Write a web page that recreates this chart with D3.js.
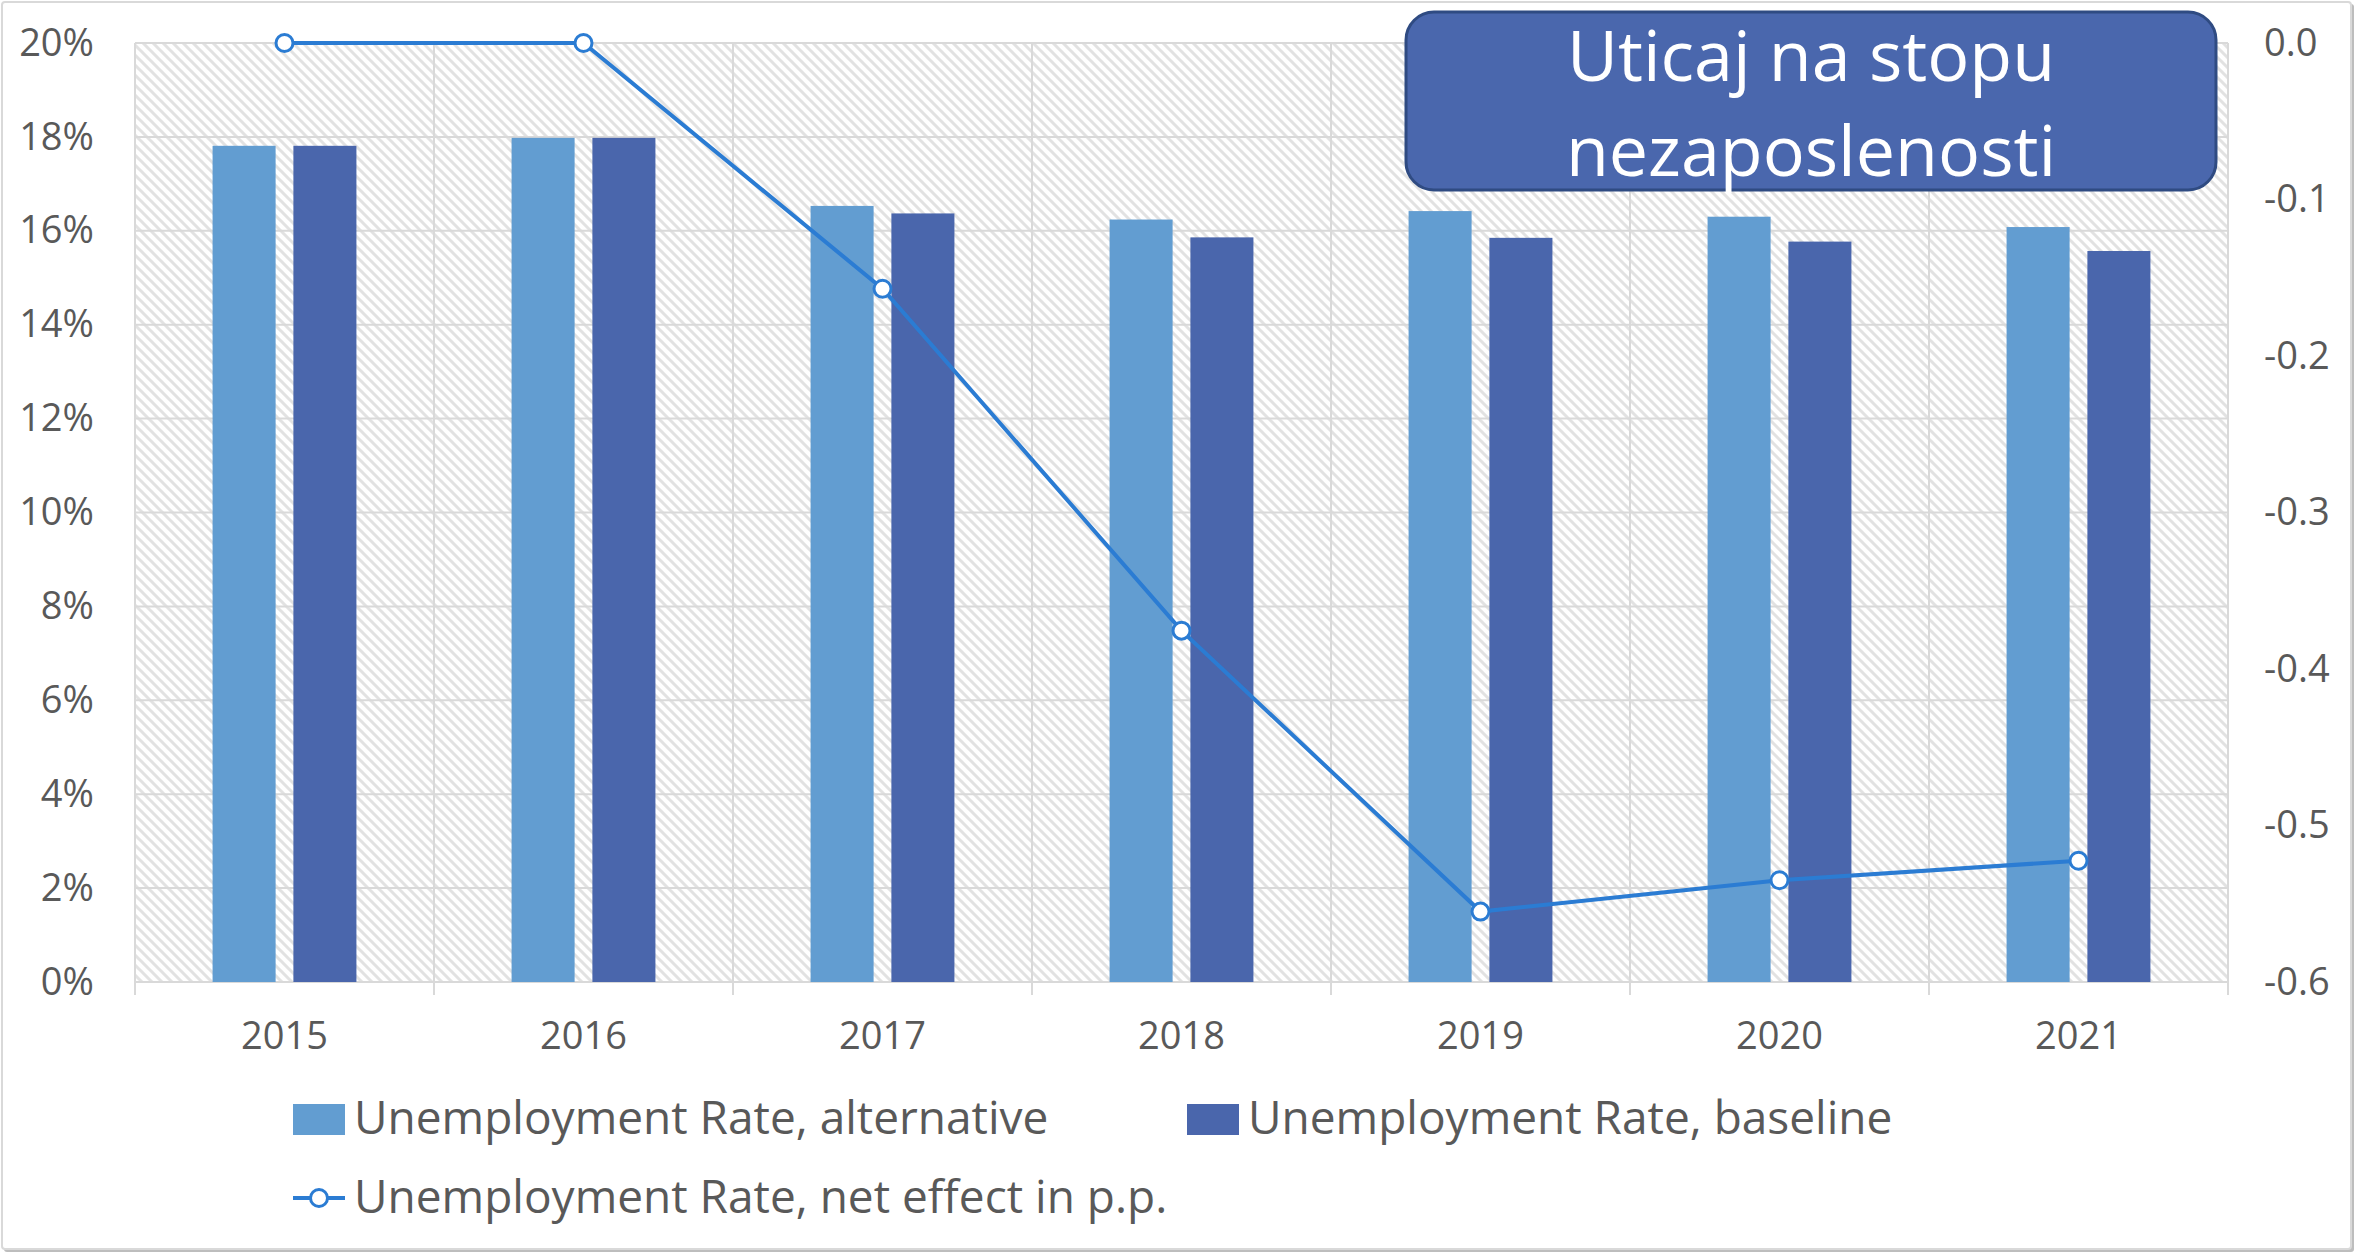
<!DOCTYPE html>
<html>
<meta charset="UTF-8">
<style>
/*	Style Definitions  */
body {
	margin: 0;
	background: white;
}

text {
	font-family: "Open Sans", sans-serif;
	fill: #595959;
}

.grid {
	stroke: #d9d9d9;
	stroke-width: 2px;
}

.net-line {
	fill: none;
	stroke: #2b7cd3;
	stroke-width: 4px;
}

.net-dot {
	fill: white;
	stroke: #2b7cd3;
	stroke-width: 3px;
}
</style>
<svg width="2356" height="1254"></svg>
<script src="https://d3js.org/d3.v7.min.js"></script>
<script>
//	chart data
var years = ["2015", "2016", "2017", "2018", "2019", "2020", "2021"];
var altRate = [0.1781, 0.1798, 0.1653, 0.1624, 0.1642, 0.1630, 0.1608];
var baseRate = [0.1781, 0.1798, 0.1637, 0.1586, 0.1585, 0.1577, 0.1557];
var netEffect = [0, 0, -0.157, -0.3755, -0.555, -0.535, -0.5225];

var seriesNames = ["Unemployment Rate, alternative", "Unemployment Rate, baseline", "Unemployment Rate, net effect in p.p."];
var titleLines = ["Uticaj na stopu", "nezaposlenosti"];

//	colors
var altColor = "#629dd1",
	baseColor = "#4a66ac";

//	svg and sizing
var svg = d3.select("svg"),
	width = +svg.attr("width"),
	height = +svg.attr("height");

var plot = {left: 135, right: 2228, top: 43, bottom: 982};

//	outer frame with a little shadow
svg.append("rect")
	.attr("x", 4).attr("y", 4)
	.attr("width", width - 6).attr("height", height - 6)
	.attr("rx", 3)
	.attr("fill", "#bdbdbd");
svg.append("rect")
	.attr("x", 2).attr("y", 2)
	.attr("width", width - 7).attr("height", height - 7)
	.attr("rx", 3)
	.attr("fill", "white")
	.attr("stroke", "#d9d9d9")
	.attr("stroke-width", 2);

//	hatch pattern for the plot area
var defs = svg.append("defs");
var hatch = defs.append("pattern")
	.attr("id", "hatch")
	.attr("patternUnits", "userSpaceOnUse")
	.attr("width", 10)
	.attr("height", 10);
hatch.append("rect")
	.attr("width", 10).attr("height", 10)
	.attr("fill", "white");
hatch.append("path")
	.attr("d", "M-1,-1L11,11M-3,7L3,13M7,-3L13,3")
	.attr("stroke", "#e2e2e2")
	.attr("stroke-width", 3);

//	scales
var x = d3.scaleBand()
	.domain(years)
	.range([plot.left, plot.right]);

var xInner = d3.scaleBand()
	.domain(["alt", "base"])
	.range([0, x.bandwidth()])
	.paddingInner(0.22)
	.paddingOuter(0.96);

var yLeft = d3.scaleLinear()
	.domain([0, 0.2])
	.range([plot.bottom, plot.top]);

var yRight = d3.scaleLinear()
	.domain([-0.6, 0])
	.range([plot.bottom, plot.top]);

//	plot background
svg.append("rect")
	.attr("x", plot.left)
	.attr("y", plot.top)
	.attr("width", plot.right - plot.left)
	.attr("height", plot.bottom - plot.top)
	.attr("fill", "url(#hatch)");

//	horizontal gridlines
svg.append("g").selectAll("line")
	.data(yLeft.ticks(10))
	.enter().append("line")
	.attr("class", "grid")
	.attr("x1", plot.left)
	.attr("x2", plot.right)
	.attr("y1", function(d) { return yLeft(d); })
	.attr("y2", function(d) { return yLeft(d); });

//	vertical gridlines at category edges (they also make the tick marks)
var edges = years.map(function(d) { return x(d); }).concat([plot.right]);
svg.append("g").selectAll("line")
	.data(edges)
	.enter().append("line")
	.attr("class", "grid")
	.attr("x1", function(d) { return d; })
	.attr("x2", function(d) { return d; })
	.attr("y1", plot.top)
	.attr("y2", plot.bottom + 13);

//	bars
var rows = years.map(function(y, i) {
	return {year: y, alt: altRate[i], base: baseRate[i], net: netEffect[i]};
});

var groups = svg.append("g").selectAll("g")
	.data(rows)
	.enter().append("g")
	.attr("transform", function(d) { return "translate(" + x(d.year) + ",0)"; });

groups.append("rect")
	.attr("x", xInner("alt"))
	.attr("width", xInner.bandwidth())
	.attr("y", function(d) { return yLeft(d.alt); })
	.attr("height", function(d) { return yLeft(0) - yLeft(d.alt); })
	.attr("fill", altColor);

groups.append("rect")
	.attr("x", xInner("base"))
	.attr("width", xInner.bandwidth())
	.attr("y", function(d) { return yLeft(d.base); })
	.attr("height", function(d) { return yLeft(0) - yLeft(d.base); })
	.attr("fill", baseColor);

//	net effect line on the right axis
var cx = function(d) { return x(d.year) + x.bandwidth() / 2; };
var line = d3.line()
	.x(cx)
	.y(function(d) { return yRight(d.net); });

svg.append("path")
	.datum(rows)
	.attr("class", "net-line")
	.attr("d", line);

svg.append("g").selectAll("circle")
	.data(rows)
	.enter().append("circle")
	.attr("class", "net-dot")
	.attr("r", 8.5)
	.attr("cx", cx)
	.attr("cy", function(d) { return yRight(d.net); });

//	axes
function styleAxis(g) {
	g.select(".domain").remove();
	g.selectAll("text")
		.style("font-family", "'Open Sans', sans-serif")
		.style("font-size", "38px")
		.attr("fill", "#595959");
}

svg.append("g")
	.attr("transform", "translate(" + plot.left + ",0)")
	.call(d3.axisLeft(yLeft).ticks(10).tickFormat(d3.format(".0%")).tickSize(0).tickPadding(41))
	.call(styleAxis);

svg.append("g")
	.attr("transform", "translate(" + plot.right + ",0)")
	.call(d3.axisRight(yRight).ticks(6).tickFormat(function(d) { return d.toFixed(1); }).tickSize(0).tickPadding(36))
	.call(styleAxis);

svg.append("g")
	.attr("transform", "translate(0," + plot.bottom + ")")
	.call(d3.axisBottom(x).tickSize(0).tickPadding(40))
	.call(styleAxis);

//	title box
svg.append("rect")
	.attr("x", 1406).attr("y", 12)
	.attr("width", 810).attr("height", 178)
	.attr("rx", 28)
	.attr("fill", "#4a67ad")
	.attr("stroke", "#2f4b82")
	.attr("stroke-width", 3);

svg.append("g").selectAll("text")
	.data(titleLines)
	.enter().append("text")
	.attr("x", 1811)
	.attr("y", function(d, i) { return 81 + i * 95; })
	.attr("text-anchor", "middle")
	.style("font-size", "70px")
	.style("fill", "white")
	.text(function(d) { return d; });

//	legend
var legendItems = [
	{name: seriesNames[0], x: 293, y: 1119, kind: "bar", color: altColor},
	{name: seriesNames[1], x: 1187, y: 1119, kind: "bar", color: baseColor},
	{name: seriesNames[2], x: 293, y: 1198, kind: "line"}
];

var legend = svg.append("g").selectAll("g")
	.data(legendItems)
	.enter().append("g")
	.attr("transform", function(d) { return "translate(" + d.x + "," + d.y + ")"; });

legend.filter(function(d) { return d.kind === "bar"; })
	.append("rect")
	.attr("x", 0).attr("y", -15)
	.attr("width", 52).attr("height", 31)
	.attr("fill", function(d) { return d.color; });

var lineKey = legend.filter(function(d) { return d.kind === "line"; });
lineKey.append("line")
	.attr("class", "net-line")
	.attr("x1", 0).attr("x2", 52);
lineKey.append("circle")
	.attr("class", "net-dot")
	.attr("cx", 26).attr("r", 8.5);

legend.append("text")
	.attr("x", 61)
	.attr("y", 15)
	.style("font-size", "46px")
	.text(function(d) { return d.name; });
</script>
